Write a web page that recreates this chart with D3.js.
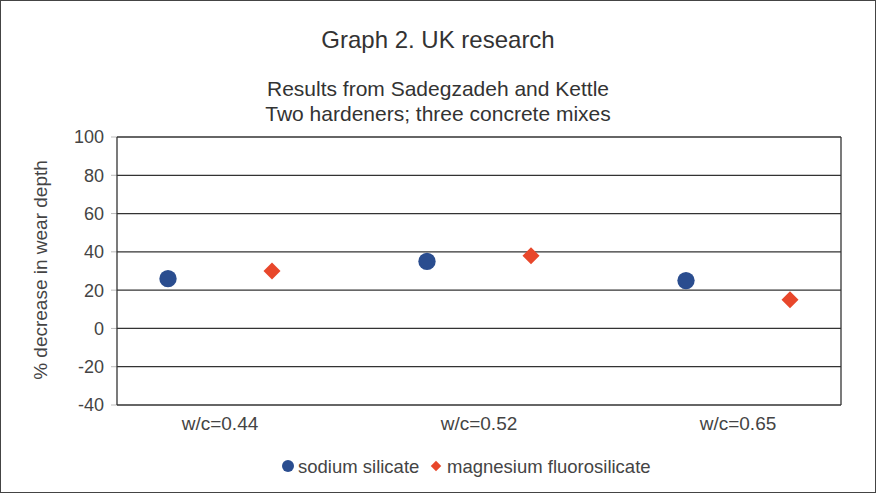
<!DOCTYPE html>
<html><head><meta charset="utf-8">
<script src="https://cdn.jsdelivr.net/npm/d3@7"></script>
<style>body{margin:0;background:#fff}svg{display:block;font-family:"Liberation Sans",Arial,sans-serif}</style>
</head><body><svg id="c" width="876" height="493"></svg>
<script>
const categories = ["w/c=0.44", "w/c=0.52", "w/c=0.65"];
const seriesNames = ["sodium silicate", "magnesium fluorosilicate"];
const sodiumSilicate = [26, 35, 25];
const magnesiumFluorosilicate = [30, 38, 15];
const yTicks = [-40, -20, 0, 20, 40, 60, 80, 100];
const colors = ["#2a4d8f", "#e8472b"];

const svg = d3.select("#c");
const L = 117, R = 841, T = 137, B = 405;
svg.append("rect").attr("x",0.5).attr("y",0.5).attr("width",875).attr("height",492).attr("fill","#fff").attr("stroke","#444");

const y = d3.scaleLinear().domain([-40,100]).range([B,T]);
const x = d3.scalePoint().domain(categories).range([220,738]);
const off = d3.scalePoint().domain(seriesNames).range([-52,52]);

svg.append("g").selectAll("line").data(yTicks).join("line")
  .attr("x1",L).attr("x2",R).attr("y1",d=>y(d)).attr("y2",d=>y(d))
  .attr("stroke","#333").attr("stroke-width",1.3);
svg.append("g").selectAll("line").data(yTicks).join("line")
  .attr("x1",L-6).attr("x2",L).attr("y1",d=>y(d)).attr("y2",d=>y(d))
  .attr("stroke","#bbb").attr("stroke-width",1);
svg.append("line").attr("x1",L).attr("x2",L).attr("y1",T).attr("y2",B).attr("stroke","#333").attr("stroke-width",1.3);
svg.append("line").attr("x1",R).attr("x2",R).attr("y1",T).attr("y2",B).attr("stroke","#333").attr("stroke-width",1.3);

svg.append("g").selectAll("text").data(yTicks).join("text")
  .attr("x",L-13).attr("y",d=>y(d)).attr("dy","0.36em").attr("text-anchor","end")
  .attr("font-size",18).attr("fill","#444").text(d=>d);

svg.append("g").selectAll("text").data(categories).join("text")
  .attr("x",d=>x(d)).attr("y",430).attr("text-anchor","middle")
  .attr("font-size",19).attr("fill","#444").text(d=>d);

svg.append("text").attr("transform","translate(47,270) rotate(-90)").attr("text-anchor","middle")
  .attr("font-size",19).attr("fill","#444").text("% decrease in wear depth");

svg.append("text").attr("x",438).attr("y",48).attr("text-anchor","middle").attr("font-size",24).attr("fill","#333").text("Graph 2. UK research");
svg.append("text").attr("x",438).attr("y",96).attr("text-anchor","middle").attr("font-size",21).attr("fill","#333").text("Results from Sadegzadeh and Kettle");
svg.append("text").attr("x",438).attr("y",121).attr("text-anchor","middle").attr("font-size",21).attr("fill","#333").text("Two hardeners; three concrete mixes");

const data = [sodiumSilicate, magnesiumFluorosilicate];
data.forEach((vals,si)=>{
  svg.append("g").selectAll("path").data(vals).join("path")
    .attr("d", si===0 ? d3.symbol(d3.symbolCircle, 237)() : d3.symbol(d3.symbolSquare, 145)())
    .attr("fill",colors[si])
    .attr("transform",(d,i)=>`translate(${x(categories[i])+off(seriesNames[si])},${y(d)})` + (si===1?" rotate(45)":""));
});

const lg = svg.append("g");
lg.append("circle").attr("cx",288).attr("cy",466).attr("r",6).attr("fill",colors[0]);
lg.append("text").attr("x",298).attr("y",472.5).attr("font-size",18.5).attr("fill","#444").text(seriesNames[0]);
lg.append("path").attr("d",d3.symbol(d3.symbolSquare,55)()).attr("transform","translate(436,466) rotate(45)").attr("fill",colors[1]);
lg.append("text").attr("x",447).attr("y",472.5).attr("font-size",18.5).attr("fill","#444").text(seriesNames[1]);
</script></body></html>
